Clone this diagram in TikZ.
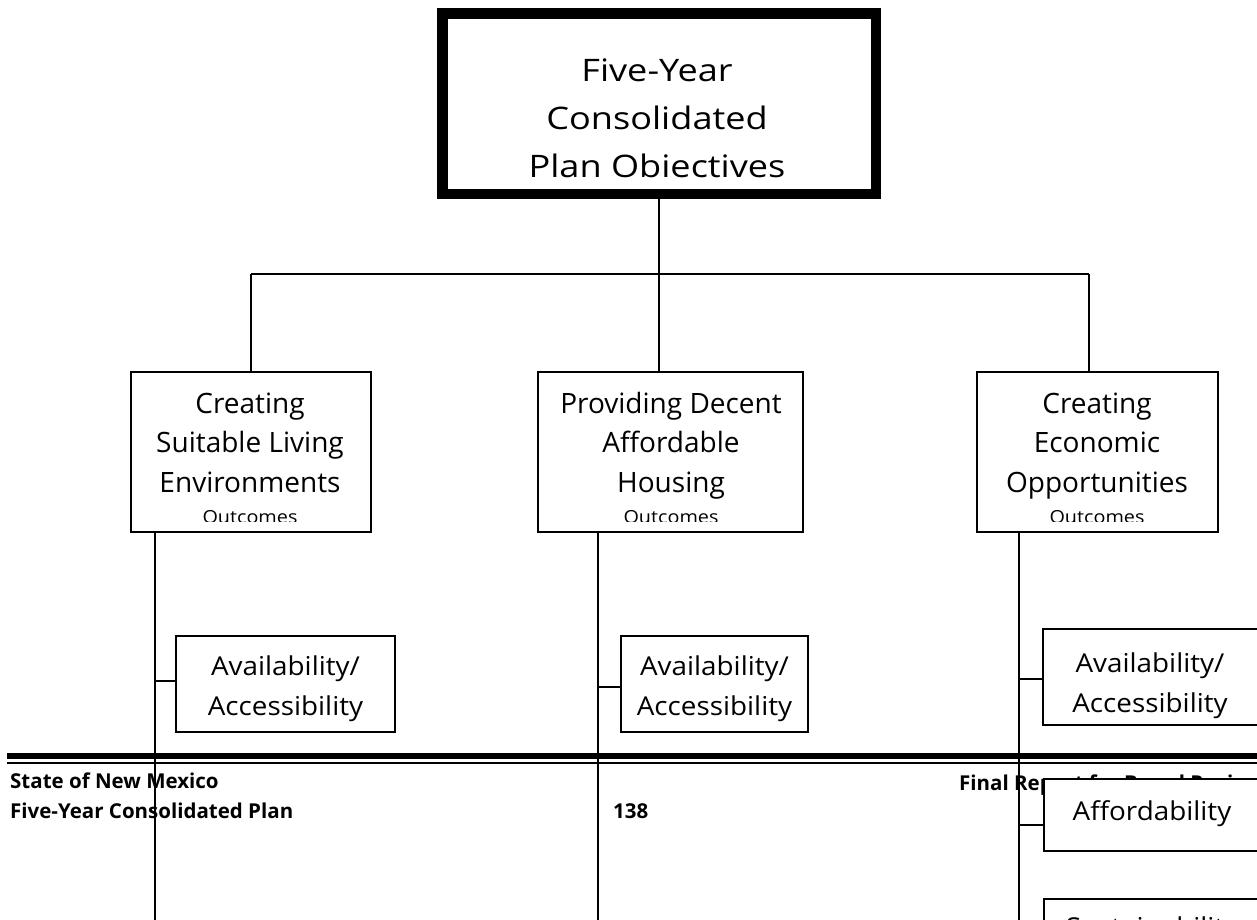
\documentclass[tikz,border=0pt]{standalone}
\usepackage{fontspec}
\usetikzlibrary{calc}
\setmainfont{Open Sans}
\newfontfamily\topfont[FakeStretch=1.165]{Open Sans}
\newfontfamily\subfont[FakeStretch=1.07]{Open Sans}
\newfontfamily\outfont[FakeStretch=1.1]{Open Sans}
\newcommand{\lines}[1]{\begin{tabular}[t]{@{}c@{}}#1\end{tabular}}
\begin{document}
\begin{tikzpicture}[x=1pt,y=-1pt,
  conn/.style={line width=1.6pt},
  box/.style={draw, line width=1.6pt, fill=white, inner sep=0pt, outer sep=0pt},
  topbox/.style={draw, line width=10.5pt, fill=white, inner sep=0pt, outer sep=0pt},
  toptxt/.style={inner sep=0pt, font=\topfont\fontsize{31}{48}\selectfont},
  midtxt/.style={inner sep=0pt, font=\fontsize{28}{39.5}\selectfont},
  subtxt/.style={inner sep=0pt, font=\subfont\fontsize{26}{40}\selectfont},
  smalltxt/.style={inner sep=0pt, font=\outfont\fontsize{18}{20}\selectfont},
  foottxt/.style={inner sep=0pt, font=\fontsize{20.5}{28}\selectfont\bfseries},
  thickrule/.style={line width=6.5pt},
  thinrule/.style={line width=2pt}]
\useasboundingbox (0,0) rectangle (1257,920);
\clip (0,0) rectangle (1257,920);

% footer
\coordinate (fl1) at (7,756); \coordinate (fr1) at (1257,756);
\coordinate (fl2) at (7,763.3); \coordinate (fr2) at (1257,763.3);
\draw[thickrule] (fl1) -- (fr1);
\draw[thinrule] (fl2) -- (fr2);
\node[foottxt, anchor=base west] (ft1) at (10,788) {State of New Mexico};
\node[foottxt, anchor=base west] (ft2) at (10,818) {Five-Year Consolidated Plan};
\node[foottxt, anchor=base west] (ft3) at (613,818) {138};
\node[foottxt, anchor=base west] (ft4) at (959,790) {Final Report for Board Review};

% boxes (positions)
\node[topbox, minimum width=433.5pt, minimum height=180.5pt] (top) at (659.25,103.75) {};
\node[box, minimum width=240pt, minimum height=160pt] (l1) at (251,452) {};
\node[box, minimum width=265pt, minimum height=160pt] (l2) at (670.5,452) {};
\node[box, minimum width=241pt, minimum height=160pt] (l3) at (1097.5,452) {};

% connectors level 1 -> 2
\coordinate (hl) at (251,274);
\coordinate (hr) at (1089,274);
\coordinate (hm) at (659,274);
\draw[conn] (top.south -| hm) -- (hm);
\draw[conn] (hl) -- (hr);
\draw[conn] (hl) -- (hl |- l1.north);
\draw[conn] (hm) -- (hm |- l2.north);
\draw[conn] (hr) -- (hr |- l3.north);

% vertical spines
\coordinate (v1) at (155,920);
\coordinate (v2) at (598,920);
\coordinate (v3) at (1019,920);
\draw[conn] (v1 |- l1.south) -- (v1);
\draw[conn] (v2 |- l2.south) -- (v2);
\draw[conn] (v3 |- l3.south) -- (v3);

% level-3 boxes
\node[box, minimum width=219pt, minimum height=96pt] (a1) at (285.5,684) {};
\node[box, minimum width=187pt, minimum height=96pt] (a2) at (714.5,684) {};
\node[box, minimum width=222pt, minimum height=96pt] (a3) at (1154,677) {};
\node[box, minimum width=221pt, minimum height=72pt] (f3) at (1154.5,815) {};
\node[box, minimum width=221pt, minimum height=96pt] (s3) at (1154.5,947) {};

\coordinate (c1) at ($(a1.west)+(0,-3)$);
\coordinate (c2) at ($(a2.west)+(0,3)$);
\coordinate (c3) at ($(a3.west)+(0,2)$);
\coordinate (c4) at ($(f3.west)+(0,10)$);
\draw[conn] (v1 |- c1) -- (c1);
\draw[conn] (v2 |- c2) -- (c2);
\draw[conn] (v3 |- c3) -- (c3);
\draw[conn] (v3 |- c4) -- (c4);

% texts
\node[toptxt, anchor=base] (toptext) at (657,82) {\lines{Five-Year\\Consolidated\\Plan Obiectives}};
\node[midtxt, anchor=base] (l1t) at (250,413) {\lines{Creating\\Suitable Living\\Environments}};
\node[midtxt, anchor=base] (l2t) at (671,413) {\lines{Providing Decent\\Affordable\\Housing}};
\node[midtxt, anchor=base] (l3t) at (1097,413) {\lines{Creating\\Economic\\Opportunities}};
\begin{scope}
\clip (100,500) rectangle (1230,521.5);
\node[smalltxt, anchor=base] (l1o) at (250,523) {Outcomes};
\node[smalltxt, anchor=base] (l2o) at (671,523) {Outcomes};
\node[smalltxt, anchor=base] (l3o) at (1097,523) {Outcomes};
\end{scope}
\node[subtxt, anchor=base] (a1t) at (285.5,675) {\lines{Availability/\\Accessibility}};
\node[subtxt, anchor=base] (a2t) at (714.5,675) {\lines{Availability/\\Accessibility}};
\node[subtxt, anchor=base] (a3t) at (1150,672) {\lines{Availability/\\Accessibility}};
\node[subtxt, anchor=base] (f3t) at (1152,820) {Affordability};
\node[subtxt, anchor=base] (s3t) at (1152,936) {Sustainability};
\end{tikzpicture}
\end{document}
